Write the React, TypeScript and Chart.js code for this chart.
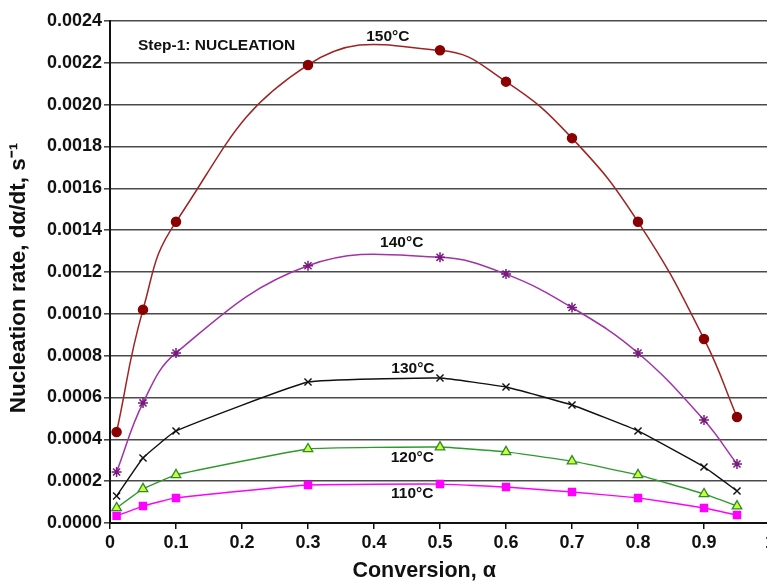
import React, { useEffect, useRef } from "react";
import { Chart, registerables } from "chart.js";

Chart.register(...registerables);

const conversion = [0.01, 0.05, 0.1, 0.3, 0.5, 0.6, 0.7, 0.8, 0.9, 0.95];
const rate150 = [0.000435, 0.00102, 0.00144, 0.00219, 0.00226, 0.00211, 0.00184, 0.00144, 0.00088, 0.000507];
const rate140 = [0.000244, 0.000574, 0.000813, 0.00123, 0.00127, 0.00119, 0.00103, 0.000813, 0.000492, 0.000282];
const rate130 = [0.000129, 0.000311, 0.00044, 0.000674, 0.000693, 0.00065, 0.000564, 0.00044, 0.000268, 0.000153];
const rate120 = [0.000072, 0.000163, 0.00023, 0.000354, 0.000363, 0.00034, 0.000296, 0.00023, 0.000139, 0.000081];
const rate110 = [0.000034, 0.000081, 0.00012, 0.000182, 0.000186, 0.000172, 0.000148, 0.00012, 0.000072, 0.000038];

const seriesNames = ["150°C", "140°C", "130°C", "120°C", "110°C"];
const labelX = [0.421, 0.442, 0.459, 0.458, 0.458];
const labelY = [0.002324, 0.001339, 0.000736, 0.000311, 0.000139];
const stepText = "Step-1: NUCLEATION";
const stepX = 0.0424;
const stepY = 0.00228;
const xTitle = "Conversion, α";
const yTitle = "Nucleation rate, dα/dt, s⁻¹";

const FONT = "'Liberation Sans', Arial, Helvetica, sans-serif";

const toPts = (ys: number[]) => conversion.map((x, i) => ({ x, y: ys[i] }));

export default function App() {
  const ref = useRef<HTMLCanvasElement | null>(null);
  useEffect(() => {
    if (!ref.current) return;
    const annot = {
      id: "annot",
      afterDatasetsDraw(chart: any) {
        const { ctx, scales, chartArea } = chart;
        const xs = scales.x;
        const ys = scales.y;
        ctx.save();
        ctx.fillStyle = "#111";
        ctx.textBaseline = "middle";
        ctx.textAlign = "center";
        ctx.font = `bold 15.5px ${FONT}`;
        seriesNames.forEach((n, i) => {
          ctx.fillText(n, xs.getPixelForValue(labelX[i]), ys.getPixelForValue(labelY[i]));
        });
        ctx.textAlign = "left";
        ctx.font = `bold 15.5px ${FONT}`;
        ctx.fillText(stepText, xs.getPixelForValue(stepX), ys.getPixelForValue(stepY));
        // axis titles
        ctx.font = `bold 21.5px ${FONT}`;
        ctx.textAlign = "center";
        ctx.fillText(xTitle, chartArea.left + (chartArea.right - chartArea.left) * 0.476, 571);
        ctx.font = `bold 22.5px ${FONT}`;
        ctx.translate(19, (chartArea.top + chartArea.bottom) / 2 + 6);
        ctx.rotate(-Math.PI / 2);
        ctx.fillText(yTitle, 0, 0);
        ctx.restore();
      },
    };
    const chart = new Chart(ref.current, {
      type: "line",
      data: {
        datasets: [
          {
            label: seriesNames[0],
            data: toPts(rate150),
            borderColor: "#9E2424",
            backgroundColor: "#8B0000",
            pointBackgroundColor: "#8B0000",
            pointBorderColor: "#8B0000",
            pointStyle: "circle",
            pointRadius: 4.5,
            borderWidth: 1.5,
            tension: 0.45,
          },
          {
            label: seriesNames[1],
            data: toPts(rate140),
            borderColor: "#A033A8",
            pointBorderColor: "#7A1A80",
            pointBackgroundColor: "#7A1A80",
            pointStyle: "star",
            pointRadius: 5,
            pointBorderWidth: 1.5,
            borderWidth: 1.5,
            tension: 0.4,
          },
          {
            label: seriesNames[2],
            data: toPts(rate130),
            borderColor: "#111111",
            pointBorderColor: "#111111",
            pointStyle: "crossRot",
            pointRadius: 5,
            pointBorderWidth: 1.4,
            borderWidth: 1.4,
            tension: 0.1,
          },
          {
            label: seriesNames[3],
            data: toPts(rate120),
            borderColor: "#2E9A2E",
            pointBorderColor: "#2E8B2E",
            pointBackgroundColor: "#CCFF33",
            pointStyle: "triangle",
            pointRadius: 5.5,
            pointBorderWidth: 1.3,
            borderWidth: 1.4,
            tension: 0.1,
          },
          {
            label: seriesNames[4],
            data: toPts(rate110),
            borderColor: "#FF00FF",
            pointBorderColor: "#FF00FF",
            pointBackgroundColor: "#FF00FF",
            pointStyle: "rect",
            pointRadius: 5,
            borderWidth: 1.4,
            tension: 0.1,
          },
        ],
      },
      options: {
        animation: false,
        responsive: false,
        devicePixelRatio: 1,
        layout: { padding: { left: 0, right: 20, top: 21, bottom: 0 } },
        plugins: { legend: { display: false }, tooltip: { enabled: false } },
        scales: {
          x: {
            type: "linear",
            min: 0,
            max: 1,
            afterFit: (s: any) => { s.height = 58; },
            ticks: {
              stepSize: 0.1,
              color: "#111",
              font: { family: FONT, size: 18, weight: "bold" },
              padding: 3,
              maxRotation: 0,
              callback: (v: any) => (Math.abs(v) < 1e-9 ? "0" : Number(v).toFixed(1).replace(/\.0$/, "")),
            },
            grid: { drawOnChartArea: false, drawTicks: true, tickLength: 6, color: "#111", lineWidth: 1.5 },
            border: { color: "#111", width: 2 },
          },
          y: {
            min: 0,
            max: 0.0024,
            afterFit: (s: any) => { s.width = 110; },
            ticks: {
              stepSize: 0.0002,
              color: "#111",
              font: { family: FONT, size: 18, weight: "bold" },
              padding: 2,
              callback: (v: any) => Number(v).toFixed(4),
            },
            grid: { color: "#4a4a4a", lineWidth: 1.6, tickLength: 6, drawTicks: true },
            border: { color: "#111", width: 2 },
          },
        },
      },
      plugins: [annot],
    });
    return () => chart.destroy();
  }, []);
  return (
    <div style={{ position: "fixed", left: 0, top: 0, width: 767, height: 581, overflow: "hidden", background: "#fff" }}>
      <canvas ref={ref} width={790} height={581} style={{ display: "block", width: 790, height: 581 }} />
    </div>
  );
}
